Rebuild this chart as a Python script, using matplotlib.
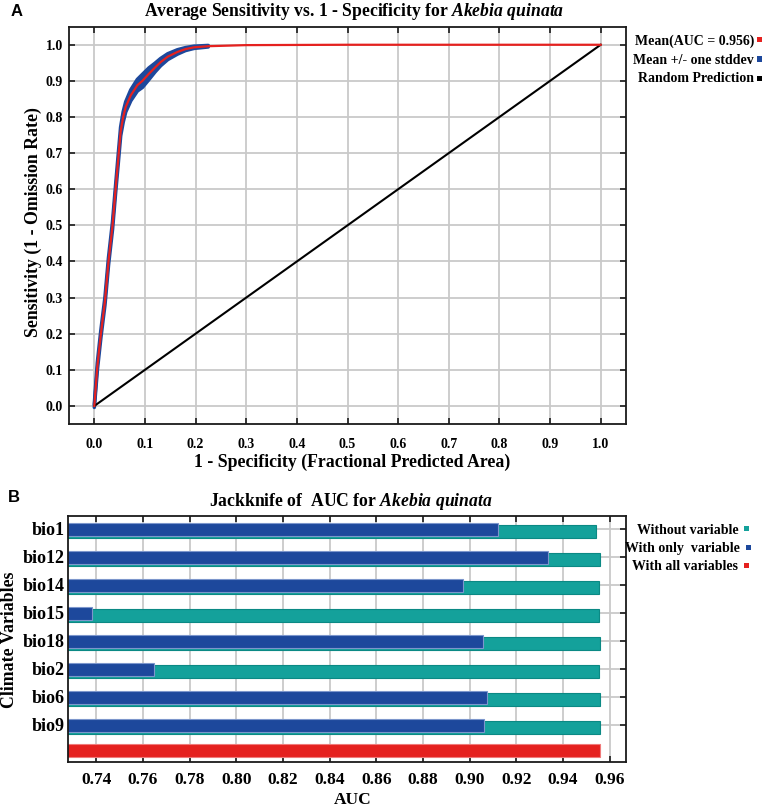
import numpy as np
import matplotlib
matplotlib.use("Agg")
import matplotlib.pyplot as plt
from matplotlib.patches import Rectangle

plt.rcParams["font.family"] = ["Liberation Serif", "DejaVu Serif"]
plt.rcParams["font.weight"] = "bold"
plt.rcParams["mathtext.fontset"] = "custom"
plt.rcParams["mathtext.it"] = "Liberation Serif:italic:bold"
plt.rcParams["mathtext.rm"] = "Liberation Serif:bold"

# panel A: average ROC curve
fpr = [0.0, 0.006, 0.013, 0.021, 0.028, 0.036, 0.042, 0.047, 0.052, 0.057,
       0.062, 0.072, 0.085, 0.095, 0.108, 0.120, 0.131, 0.145, 0.164, 0.180,
       0.197, 0.225, 0.300, 0.500, 1.0]
tpr_mean = [0.0, 0.11, 0.20, 0.29, 0.40, 0.50, 0.60, 0.68, 0.76, 0.80,
            0.828, 0.860, 0.888, 0.900, 0.920, 0.937, 0.952, 0.967, 0.980, 0.988,
            0.993, 0.996, 0.999, 1.0, 1.0]
tpr_sd = [0.004, 0.01, 0.01, 0.01, 0.01, 0.01, 0.01, 0.012, 0.012, 0.014,
          0.014, 0.015, 0.016, 0.018, 0.016, 0.012, 0.010, 0.008, 0.006, 0.004,
          0.003, 0.002, 0.0, 0.0, 0.0]
auc_mean = 0.956

# panel B: jackknife of AUC
variables = ["bio1", "bio12", "bio14", "bio15", "bio18", "bio2", "bio6", "bio9"]
auc_without = [0.9543, 0.9559, 0.9555, 0.9555, 0.9559, 0.9553, 0.9559, 0.9559]
auc_only = [0.9122, 0.9334, 0.8972, 0.7382, 0.9056, 0.7649, 0.9075, 0.9060]
auc_all = 0.9559

W, H = 766, 811
RED = "#e5211f"
BLUE = "#1d489c"
TEAL = "#14a19b"
GRID = "#c9c9c9"
FRAME = "#1a1a1a"


def fx(px):
    return px / W


def fy(py):
    return 1 - py / H


def legend_entry(fig, x_text, y, label, color, x_sq, y_sq):
    fig.text(fx(x_text), fy(y), label, ha="right", va="center", fontsize=10)
    fig.add_artist(Rectangle((fx(x_sq - 2.5), fy(y_sq + 2.5)), 5 / W, 5 / H,
                             transform=fig.transFigure, color=color, lw=0))


def style_frame(ax):
    for sp in ax.spines.values():
        sp.set_color(FRAME)
        sp.set_linewidth(1.3)


fig = plt.figure(figsize=(7.66, 8.11), dpi=100)

# ---------------- panel A ----------------
axA = fig.add_axes([fx(69), fy(424), fx(626) - fx(69), fy(26.7) - fy(424)])
axA.set_xlim(-0.05, 1.05)
axA.set_ylim(-0.05, 1.05)
ticks = np.round(np.arange(0, 1.01, 0.1), 1)
axA.set_xticks(ticks)
axA.set_yticks(ticks)
axA.set_xticklabels([f"{t:.1f}" for t in ticks])
axA.set_yticklabels([f"{t:.1f}" for t in ticks])
axA.grid(True, color=GRID, lw=1.3)
axA.set_axisbelow(True)

m = np.array(tpr_mean)
sd = np.array(tpr_sd)
x = np.array(fpr)
lo = m - sd
hi = np.minimum(m + sd, 1.0)
band = sd > 0
axA.fill_between(x[band], lo[band], hi[band], color=BLUE, lw=0)
axA.plot(x[band], lo[band], color=BLUE, lw=2.6, solid_capstyle="round")
axA.plot(x[band], hi[band], color=BLUE, lw=2.6, solid_capstyle="round")
axA.plot([0, 1], [0, 1], color="black", lw=1.5)
axA.plot(x, m, color=RED, lw=1.6)

axA.tick_params(direction="in", length=4, width=1.2, color=FRAME,
                top=True, right=True, labelsize=10)
axA.tick_params(axis="x", pad=10)
axA.tick_params(axis="y", pad=4.5)
style_frame(axA)

fig.text(fx(11), fy(12), "A", family="Liberation Sans", fontsize=12,
         ha="left", va="center")
fig.text(fx(354), fy(12),
         r"Average Sensitivity vs. 1 - Specificity for $\mathit{Akebia\ quinata}$",
         ha="center", va="center", fontsize=12.7)
fig.text(fx(352), fy(462), "1 - Specificity (Fractional Predicted Area)",
         ha="center", va="center", fontsize=12.8)
fig.text(fx(33), fy(222), "Sensitivity (1 - Omission Rate)", rotation=90,
         ha="center", va="center", fontsize=12.8)

legend_entry(fig, 754, 41, f"Mean(AUC = {auc_mean:.3f})", RED, 759.5, 39.5)
legend_entry(fig, 754, 60, "Mean +/- one stddev", BLUE, 759.5, 59)
legend_entry(fig, 754, 79, "Random Prediction", "black", 759.5, 78.5)

# ---------------- panel B ----------------
axB = fig.add_axes([fx(68.3), fy(762.3), fx(626) - fx(68.3), fy(515.7) - fy(762.3)])
rows = np.arange(len(variables))
axB.barh(rows, auc_without, height=0.45, color=TEAL, edgecolor="#0b8984", lw=0.8)
axB.barh(rows - 0.075, auc_only, height=0.45, color=BLUE, edgecolor="#7c96cc", lw=0.8)
axB.barh([len(variables) - 0.18], [auc_all], height=0.45, color=RED,
         edgecolor="#f07a7a", lw=0.8)
axB.set_xlim(0.728, 0.967)
axB.set_ylim(8.24, -0.57)
xt = np.round(np.arange(0.74, 0.961, 0.02), 2)
axB.set_xticks(xt)
axB.set_xticklabels([f"{t:.2f}" for t in xt])
axB.set_yticks(rows - 0.1)
axB.set_yticklabels(variables)
axB.grid(True, color=GRID, lw=1.3)
axB.set_axisbelow(True)
axB.tick_params(axis="x", direction="in", length=4, width=1.2, color=FRAME,
                top=True, labelsize=12.5, pad=7)
axB.tick_params(axis="y", direction="in", length=4, width=1.2, color=FRAME,
                left=False, right=True, labelsize=13, pad=2.5)
style_frame(axB)

fig.text(fx(8), fy(498), "B", family="Liberation Sans", fontsize=12,
         ha="left", va="center")
fig.text(fx(351), fy(502), r"Jackknife of  AUC for $\mathit{Akebia\ quinata}$",
         ha="center", va="center", fontsize=12.7)
fig.text(fx(353), fy(800), "AUC", ha="center", va="center", fontsize=12.5)
fig.text(fx(10), fy(640), "Climate Variables", rotation=90,
         ha="center", va="center", fontsize=12.8)

legend_entry(fig, 738.5, 530.7, "Without variable", TEAL, 746.7, 528.3)
legend_entry(fig, 740, 548.3, "With only  variable", BLUE, 748, 547)
legend_entry(fig, 738.5, 566, "With all variables", RED, 746.7, 565)

fig.savefig("out.png", dpi=100)
